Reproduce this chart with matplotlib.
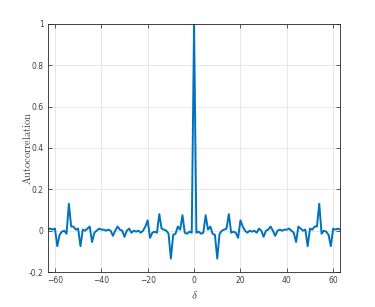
"""Autocorrelation of a sequence vs lag (MATLAB-style figure)."""
import matplotlib
matplotlib.use("Agg")
import matplotlib.pyplot as plt
import numpy as np

plt.rcParams["mathtext.fontset"] = "cm"

# autocorrelation for lags 0..63 (symmetric about 0)
half_lags = list(range(0, 64))
half_acf = [1.0, -0.01, -0.005, -0.015, -0.01, 0.075, 0.005, 0.02, -0.015, -0.02,
            -0.135, -0.015, 0.0, 0.005, 0.01, 0.08, -0.01, -0.005, -0.01, -0.035,
            0.05, 0.02, 0.0, -0.01, 0.0, -0.005, 0.0, -0.01, 0.01, 0.0,
            -0.03, 0.0, 0.005, 0.02, 0.0, -0.025, 0.0, 0.005, 0.0, 0.005,
            0.005, 0.01, 0.0, -0.01, -0.055, 0.02, 0.01, 0.0, 0.005, -0.075,
            0.01, 0.005, 0.02, 0.02, 0.13, -0.015, 0.0, -0.005, -0.02, -0.075,
            0.01, 0.005, 0.01, 0.005]
lags = np.concatenate([-np.array(half_lags[:0:-1]), half_lags])
acf = np.concatenate([half_acf[:0:-1], half_acf])

xticks = [-60, -40, -20, 0, 20, 40, 60]
yticks = [-0.2, 0, 0.2, 0.4, 0.6, 0.8, 1]
ytick_labels = ["-0.2", "0", "0.2", "0.4", "0.6", "0.8", "1"]

fig = plt.figure(figsize=(3.75, 3.07), dpi=100)
ax = fig.add_axes([0.128, 0.114, 0.779, 0.808])
ax.plot(lags, acf, color="#0072BD", lw=1.4)
ax.set_xlim(-63, 63); ax.set_ylim(-0.2, 1)
ax.set_xticks(xticks); ax.set_yticks(yticks); ax.set_yticklabels(ytick_labels)
ax.grid(True, color="#e3e3e3", lw=0.6); ax.set_axisbelow(True)
ax.tick_params(direction="in", length=3, width=0.6, labelsize=5.5, colors="#404040",
               top=True, right=True, pad=3)
for s in ax.spines.values(): s.set_color("#262626"); s.set_linewidth(0.6)
ax.set_ylabel(r"$\mathrm{Autocorrelation}$", fontsize=7.5, color="#404040")
ax.yaxis.set_label_coords(-0.052, 0.5)
ax.set_xlabel(r"$\delta$", fontsize=8, color="#404040")
ax.xaxis.set_label_coords(0.5, -0.068)
fig.savefig("out.png", dpi=100)
